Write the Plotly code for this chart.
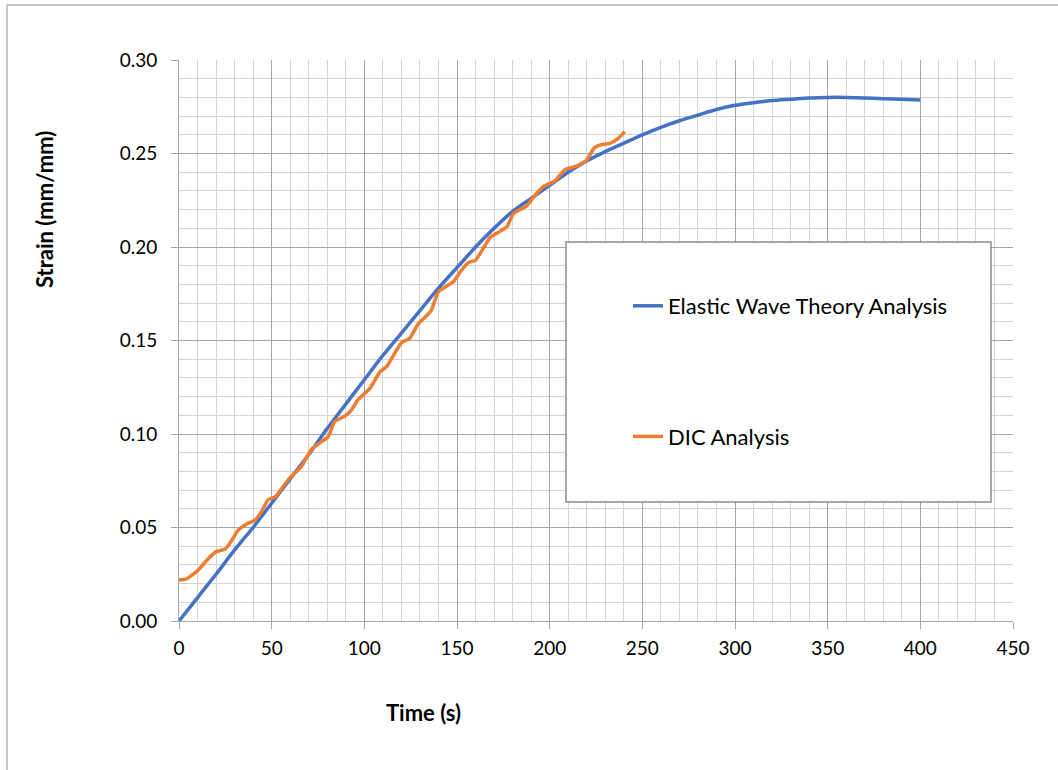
import plotly.graph_objects as go

# Elastic wave theory prediction (strain vs time)
theory_time = [0, 10, 20, 30, 40, 50, 60, 70, 80, 90, 100, 110, 120, 130, 140, 150,
               160, 170, 180, 190, 200, 210, 220, 230, 240, 250, 260, 270, 280, 290,
               300, 310, 320, 330, 340, 350, 360, 370, 380, 390, 400]
theory_strain = [0.000, 0.0125, 0.025, 0.038, 0.050, 0.063, 0.076, 0.089, 0.103, 0.116,
                 0.129, 0.142, 0.154, 0.166, 0.178, 0.189, 0.200, 0.210, 0.219, 0.226,
                 0.233, 0.240, 0.246, 0.251, 0.2555, 0.260, 0.264, 0.2675, 0.2705, 0.2735,
                 0.2758, 0.2772, 0.2783, 0.2790, 0.2797, 0.2800, 0.2800, 0.2797, 0.2793,
                 0.2790, 0.2786]

# DIC measurement
dic_time = [0, 4, 10, 16, 20, 25, 28, 32, 36.5, 41, 44.5, 48, 52, 55.5, 60, 66, 71.5,
            77, 80.5, 84, 89.5, 93, 96.5, 103, 108.5, 112, 120, 124.5, 129, 136, 140,
            148, 152.5, 156, 160, 168, 172, 177, 180.5, 187.5, 193, 196.5, 203, 208,
            214.5, 220, 224, 227, 232.5, 237, 240.5]
dic_strain = [0.0219, 0.0225, 0.0269, 0.0335, 0.0371, 0.0385, 0.0424, 0.0487, 0.0519,
              0.0540, 0.0585, 0.0647, 0.0665, 0.0710, 0.0768, 0.0825, 0.0918, 0.0959,
              0.0986, 0.1066, 0.1096, 0.1128, 0.1182, 0.1244, 0.1333, 0.1360, 0.1488,
              0.1512, 0.1588, 0.1659, 0.1761, 0.1814, 0.1877, 0.1916, 0.1930, 0.2052,
              0.2077, 0.2109, 0.2180, 0.2219, 0.2287, 0.2323, 0.2355, 0.2412, 0.2433,
              0.2465, 0.2530, 0.2545, 0.2554, 0.2581, 0.2617]

# axis ticks: major step and minor (grid) step
x_range = [0, 450]
x_major, x_minor = 50, 10
y_range = [0, 0.30]
y_major, y_minor = 0.05, 0.01

FONT = "Lato"
MAJOR = "#a6a6a6"
MINOR = "#d3d3d3"

fig = go.Figure()
fig.add_trace(go.Scatter(
    x=theory_time, y=theory_strain, mode="lines",
    name="Elastic Wave Theory Analysis", legendgroup="a",
    line=dict(color="#4472C4", width=3.5, shape="spline", smoothing=0.6),
))
fig.add_trace(go.Scatter(
    x=dic_time, y=dic_strain, mode="lines",
    name="DIC Analysis", legendgroup="b",
    line=dict(color="#ED7D31", width=3.5, shape="spline", smoothing=0.5),
))

axis_common = dict(
    showline=True, linecolor=MAJOR, linewidth=1,
    showgrid=True, gridcolor=MAJOR, gridwidth=1,
    ticks="outside", ticklen=7, tickcolor=MAJOR, tickwidth=1,
    tickfont=dict(family=FONT, size=19, color="#000000"),
    zeroline=False, mirror=False, tickmode="linear", tick0=0,
)

fig.update_xaxes(
    range=x_range, dtick=x_major, tickformat="d",
    minor=dict(tickmode="linear", tick0=0, dtick=x_minor, showgrid=True,
               gridcolor=MINOR, gridwidth=1, ticks=""),
    ticklabelstandoff=3,
    **axis_common,
)
fig.update_yaxes(
    range=y_range, dtick=y_major, tickformat=".2f",
    minor=dict(tickmode="linear", tick0=0, dtick=y_minor, showgrid=True,
               gridcolor=MINOR, gridwidth=1, ticks=""),
    ticklabelstandoff=10,
    **axis_common,
)

shapes = [
    # outer chart frame
    dict(type="rect", xref="paper", yref="paper",
         x0=-0.2062, x1=1.08, y0=-0.30, y1=1.098,
         line=dict(color="#b4b4b4", width=1.5), fillcolor="rgba(0,0,0,0)",
         layer="below"),
    # legend panel
    dict(type="rect", xref="paper", yref="paper",
         x0=0.464, x1=0.9736, y0=0.2121, y1=0.6756,
         line=dict(color="#8c8c8c", width=1.5), fillcolor="#ffffff",
         layer="above"),
]

annotations = [
    dict(text="<b>Time (s)</b>", xref="paper", yref="paper",
         x=(423 - 179) / 834, y=(621 - 712) / 561, showarrow=False,
         xanchor="center", yanchor="middle",
         font=dict(family=FONT, size=22, color="#000000")),
    dict(text="<b>Strain (mm/mm)</b>", xref="paper", yref="paper",
         x=(45 - 179) / 834, y=(621 - 210) / 561, showarrow=False, textangle=-90,
         xanchor="center", yanchor="middle",
         font=dict(family=FONT, size=22, color="#000000")),
]

fig.update_layout(
    width=1058, height=770,
    margin=dict(l=179, r=45, t=60, b=149),
    paper_bgcolor="#ffffff", plot_bgcolor="#ffffff",
    showlegend=True,
    legend=dict(
        x=(628 - 179) / 834, y=(621 - 285) / 561, xanchor="left", yanchor="top",
        bgcolor="rgba(0,0,0,0)", borderwidth=0,
        font=dict(family=FONT, size=22, color="#000000"),
        traceorder="grouped", tracegroupgap=99,
    ),
    shapes=shapes,
    annotations=annotations,
)

fig.write_html("out.html")
